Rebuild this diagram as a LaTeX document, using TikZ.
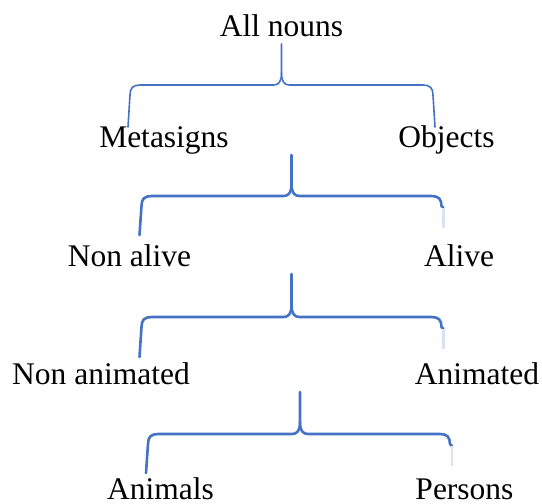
\documentclass[tikz,border=0pt]{standalone}
\usepackage{fontspec}
\setmainfont{Liberation Serif}
\usepackage{xcolor}
\definecolor{braceblue}{RGB}{68,114,196}

\begin{document}
\begin{tikzpicture}[x=1pt,y=-1pt,
  lbl/.style={inner sep=0pt,anchor=base,font=\fontsize{31.5}{36}\selectfont},
  bracket/.style={draw=braceblue,line cap=round,line join=round}]
  \useasboundingbox (0,0) rectangle (542,504);
  % labels
  \node[lbl] (all) at (281.5,36) {All nouns};
  \node[lbl] (meta) at (164,147) {Metasigns};
  \node[lbl] (obj) at (446.5,147) {Objects};
  \node[lbl] (nonalive) at (129.5,266) {Non alive};
  \node[lbl] (alive) at (459,266) {Alive};
  \node[lbl] (nonanim) at (101,384) {Non animated};
  \node[lbl] (anim) at (477,384) {Animated};
  \node[lbl] (animals) at (160.5,499) {Animals};
  \node[lbl] (persons) at (464.5,499) {Persons};
  % braces
  \foreach \xl/\xt/\xr/\yt/\yh/\yl/\yr/\lw in {130/281.5/433/44/85/127/127/1.6,
      141.5/291.5/441.5/155/196/235/208/2.6,
      141.5/291.5/441.5/274/317/357/329/2.6,
      148/300/450/392/434/473/446/2.6} {
    \draw[bracket,line width=\lw pt] (\xl-2,\yl) -- (\xl,\yh+10)
      .. controls (\xl,\yh+3) and (\xl+3,\yh) .. (\xl+10,\yh) -- (\xt-8,\yh)
      .. controls (\xt-3,\yh) and (\xt,\yh-3) .. (\xt,\yh-12) -- (\xt,\yt);
    \draw[bracket,line width=\lw pt] (\xt,\yh-12)
      .. controls (\xt,\yh-3) and (\xt+3,\yh) .. (\xt+8,\yh) -- (\xr-10,\yh)
      .. controls (\xr-3,\yh) and (\xr,\yh+3) .. (\xr,\yh+10) -- (\xr+2,\yr);
  }
  % faded ends on the right
  \foreach \xr/\ya/\yb in {443.5/208/228, 443.5/329/349, 452/446/466}
    \draw[draw=braceblue!20,line width=2.6pt] (\xr,\ya) -- (\xr,\yb);
\end{tikzpicture}
\end{document}
